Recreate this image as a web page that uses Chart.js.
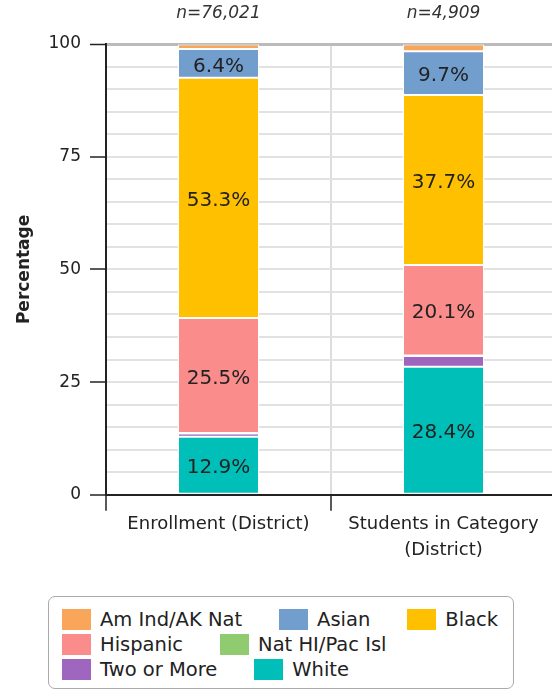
<!DOCTYPE html>
<html>
<head>
<meta charset="utf-8">
<script src="https://cdn.jsdelivr.net/npm/chart.js@4.4.1/dist/chart.umd.min.js"></script>
<style>
  html, body { margin: 0; padding: 0; background: #fff; overflow: hidden; }
  #wrap { position: relative; width: 552px; height: 690px; overflow: hidden; }
  #grafico { position: absolute; left: 0; top: 0; }
  #leyenda {
    position: absolute; left: 48px; top: 596px; width: 466px; height: 93px;
    box-sizing: border-box; border: 1.5px solid #aaa; border-radius: 7px;
    padding: 10px 0 0 13px;
    display: flex; flex-wrap: wrap; column-gap: 37px; align-content: flex-start;
    font-family: 'DejaVu Sans', sans-serif; font-size: 19.5px; color: #222;
  }
  .item { display: flex; align-items: center; height: 25px; }
  .caja { width: 29px; height: 21px; margin-right: 9px; }
</style>
</head>
<body>
<div id="wrap">
  <canvas id="grafico" width="560" height="580"></canvas>
  <div id="leyenda"></div>
</div>
<script>
const categorias = ['Enrollment (District)', ['Students in Category', '(District)']];
const totales = ['n=76,021', 'n=4,909'];

const white = [12.9, 28.4];
const twoOrMore = [0.7, 2.4];
const natHi = [0.1, 0.1];
const hispanic = [25.5, 20.1];
const black = [53.3, 37.7];
const asian = [6.4, 9.7];
const amInd = [1.0, 1.5];

const yTicks = [0, 25, 50, 75, 100];

const series = [
  { label: 'White', data: white, color: '#00BFB8' },
  { label: 'Two or More', data: twoOrMore, color: '#9E66BF' },
  { label: 'Nat HI/Pac Isl', data: natHi, color: '#90CC6F' },
  { label: 'Hispanic', data: hispanic, color: '#FA8C8C' },
  { label: 'Black', data: black, color: '#FFC000' },
  { label: 'Asian', data: asian, color: '#729ECE' },
  { label: 'Am Ind/AK Nat', data: amInd, color: '#F9A65A' }
];

const fuente = 'DejaVu Sans';

// etiquetas de porcentaje dentro de cada segmento
const etiquetas = {
  id: 'etiquetas',
  afterDatasetsDraw(chart) {
    const ctx = chart.ctx;
    ctx.save();
    ctx.font = '20px "' + fuente + '"';
    ctx.fillStyle = '#222';
    ctx.textAlign = 'center';
    ctx.textBaseline = 'middle';
    chart.data.datasets.forEach((ds, i) => {
      chart.getDatasetMeta(i).data.forEach((bar, j) => {
        const v = ds.data[j];
        if (v < 5) return;
        const {x, y, base} = bar.getProps(['x', 'y', 'base'], true);
        ctx.fillText(v.toFixed(1) + '%', x, (y + base) / 2 + 3);
      });
    });
    ctx.restore();
  }
};

const datos = {
  labels: categorias,
  datasets: series.map(s => ({
    label: s.label,
    data: s.data,
    backgroundColor: s.color,
    borderColor: '#fff',
    borderWidth: 1,
    borderSkipped: false,
    barPercentage: 0.36,
    categoryPercentage: 1.0
  }))
};

const config = {
  type: 'bar',
  data: datos,
  options: {
    responsive: false,
    animation: false,
    layout: { padding: { left: 10, right: 4, top: 4, bottom: 17 } },
    plugins: {
      legend: { display: false },
      tooltip: { enabled: false }
    },
    scales: {
      x: {
        stacked: true,
        grid: { offset: true, color: '#ddd', lineWidth: 2, tickColor: '#222', tickLength: 16, tickWidth: 1.5 },
        border: { color: '#222', width: 2 },
        ticks: { color: '#222', padding: 0, font: { family: fuente, size: 18, lineHeight: 1.45 }, maxRotation: 0 }
      },
      x2: {
        type: 'category',
        position: 'top',
        labels: totales,
        offset: true,
        afterFit: scale => { scale.height = 40; },
        grid: { display: false, drawTicks: false },
        border: { display: false },
        ticks: { color: '#333', padding: 20, font: { family: fuente, size: 17, style: 'italic' } }
      },
      y: {
        stacked: true,
        min: 0,
        max: 100,
        afterFit: scale => { scale.width = 96; },
        title: { display: true, text: 'Percentage', color: '#222', padding: { top: 4, bottom: 4 }, font: { family: fuente, size: 17, weight: 'bold' } },
        border: { color: '#222', width: 2 },
        grid: {
          color: c => c.tick && c.tick.value === 100 ? '#bbb' : '#e2e2e2',
          lineWidth: c => c.tick && c.tick.value === 100 ? 3 : 2,
          tickColor: c => c.tick && yTicks.includes(c.tick.value) ? '#222' : 'rgba(0,0,0,0)',
          tickLength: 16,
          tickWidth: 1.5
        },
        ticks: {
          stepSize: 5,
          autoSkip: false,
          padding: 9,
          color: '#222',
          font: { family: fuente, size: 17 },
          callback: v => yTicks.includes(v) ? v : ''
        }
      }
    }
  },
  plugins: [etiquetas]
};

const grafico = new Chart(document.getElementById('grafico'), config);

// leyenda en html, orden invertido como en la imagen
const leyenda = document.getElementById('leyenda');
series.slice().reverse().forEach(s => {
  const item = document.createElement('div');
  item.className = 'item';
  item.innerHTML = `<span class="caja" style="background:${s.color}"></span><span>${s.label}</span>`;
  leyenda.append(item);
});
</script>
</body>
</html>
